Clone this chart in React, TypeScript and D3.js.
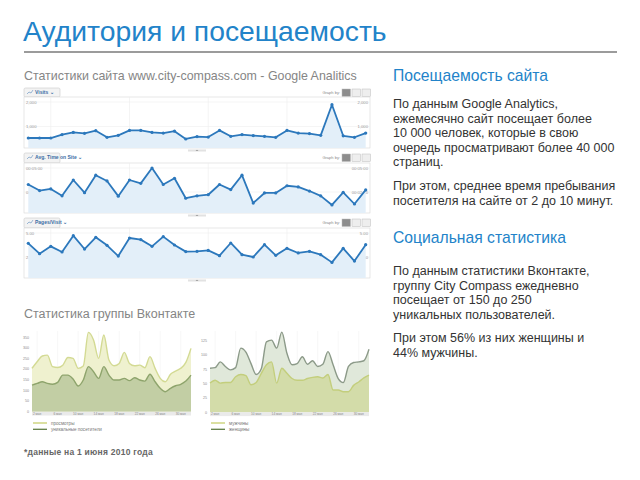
import React from 'react';
import * as d3 from 'd3';

const FONT = '"Liberation Sans", Arial, sans-serif';
const BLUE = '#2283c9';

// Google Analytics, daily values (8 May - 7 June)
const visits = [530, 530, 530, 670, 760, 720, 830, 560, 640, 840, 840, 760, 730, 810, 490, 590,
  570, 840, 600, 670, 630, 600, 560, 840, 730, 710, 640, 1890, 620, 560, 730];
const avgTime = [197, 159, 169, 126, 225, 146, 255, 219, 124, 225, 204, 300, 197, 236, 111, 126,
  133, 197, 165, 255, 81, 144, 144, 189, 182, 156, 126, 69, 148, 75, 163];
const pagesPerVisit = [3.92, 2.85, 3.61, 3.02, 4.72, 3.33, 4.55, 3.72, 2.6, 4.48, 4.31, 3.61, 4.62,
  3.75, 3.06, 3.09, 3.19, 2.64, 3.96, 2.74, 2.5, 3.78, 2.67, 3.4, 2.92, 3.09, 2.74, 1.94, 3.4, 2.08, 3.78];
const gaWeekLabels = ['May 10', 'May 17', 'May 24', 'May 31'];
const gaWeekIndex = [2, 9, 16, 23];

// Vkontakte group, daily values (1 May - 1 June)
const vkViews = [204, 235, 262, 266, 212, 208, 219, 255, 251, 204, 215, 373, 337, 251, 361, 243,
  216, 227, 279, 227, 216, 219, 207, 259, 204, 157, 141, 176, 191, 204, 232, 298];
const vkUnique = [125, 133, 141, 133, 129, 138, 172, 172, 154, 121, 149, 212, 188, 157, 212, 172,
  149, 149, 157, 146, 160, 149, 144, 176, 141, 110, 94, 110, 122, 129, 144, 172];
const vkWomen = [77, 78, 88, 80, 74, 78, 112, 105, 85, 66, 76, 123, 126, 112, 140, 103,
  83, 85, 97, 84, 90, 80, 84, 106, 83, 59, 52, 80, 87, 88, 90, 110];
const vkMen = [51, 56, 51, 52, 52, 62, 66, 64, 48, 52, 68, 83, 88, 51, 77, 68,
  59, 56, 56, 59, 61, 62, 60, 66, 39, 39, 36, 36, 47, 53, 60, 65];
const vkDayLabels = ['2 мая', '6 мая', '10 мая', '14 мая', '18 мая', '22 мая', '26 мая', '30 мая'];
const vkDayIndex = [1, 5, 9, 13, 17, 21, 25, 29];
const vkViewsTicks = [0, 50, 100, 150, 200, 250, 300, 350];
const vkGenderTicks = [0, 25, 50, 75, 100, 125];

const fmtTime = (s: number) => {
  const m = Math.floor(s / 60), r = Math.round(s % 60);
  return `00:${String(m).padStart(2, '0')}:${String(r).padStart(2, '0')}`;
};

function GaPanel({ title, data, top, chartTop, chartBottom, yMax, fmt }: any) {
  const left = 24, right = 370;
  const x = d3.scaleLinear().domain([0, data.length - 1]).range([28.3, 365.7]);
  const y = d3.scaleLinear().domain([0, yMax]).range([chartBottom + 3, chartTop + 5]);
  const area = d3.area<number>().x((d, i) => x(i)).y0(chartBottom).y1(d => y(d));
  const line = d3.line<number>().x((d, i) => x(i)).y(d => y(d));
  const clipId = `clip-${title.replace(/[^a-z]/gi, '')}`;
  return (
    <g fontFamily={FONT}>
      <rect x={left} y={top} width={36} height={chartTop - top} rx={1.5} fill="#f3f3f3" stroke="#c9c9c9" strokeWidth={0.6} />
      <path d={`M${left + 3},${top + 6} l2,-2 l2,1 l2,-3`} fill="none" stroke="#5b8cc0" strokeWidth={0.6} />
      <text x={left + 11} y={top + 6.3} fontSize={5} fill="#3b6ea5" fontWeight="bold">{title} ⌄</text>
      <text x={340} y={top + 6} fontSize={4} fill="#888" textAnchor="end">Graph by:</text>
      {[0, 1, 2].map(k => (
        <rect key={k} x={342 + k * 10} y={top + 1} width={8.5} height={7.5} fill={k === 0 ? '#8d8d8d' : '#eeeeee'} stroke="#bbb" strokeWidth={0.5} />
      ))}
      <rect x={left} y={chartTop} width={right - left} height={chartBottom - chartTop} fill="#fff" stroke="#d8d8d8" strokeWidth={0.6} />
      <clipPath id={clipId}><rect x={left} y={chartTop} width={right - left} height={chartBottom - chartTop} /></clipPath>
      {gaWeekIndex.map((idx, k) => (
        <g key={k}>
          <line x1={x(idx)} x2={x(idx)} y1={chartTop} y2={chartBottom} stroke="#ececec" strokeWidth={0.6} />
          <text x={x(idx) + 4} y={chartBottom - 2.5} fontSize={4.5} fill="#7a9ab8">{gaWeekLabels[k]}</text>
        </g>
      ))}
      {[yMax / 2, yMax].map((v, k) => (
        <g key={k}>
          <line x1={left} x2={right} y1={y(v)} y2={y(v)} stroke="#eeeeee" strokeWidth={0.6} />
          <text x={left + 2} y={y(v) + 1.5} fontSize={4.2} fill="#999">{fmt(v)}</text>
          <text x={right - 2} y={y(v) + 1.5} fontSize={4.2} fill="#999" textAnchor="end">{fmt(v)}</text>
        </g>
      ))}
      <g clipPath={`url(#${clipId})`}>
        <path d={area(data) || ''} fill="#e3eff9" />
        <path d={line(data) || ''} fill="none" stroke="#2c78bc" strokeWidth={1.8} strokeLinejoin="round" />
        {data.map((d: number, i: number) => (
          <circle key={i} cx={x(i)} cy={y(d)} r={1.6} fill="#2c78bc" />
        ))}
      </g>
      <rect x={188} y={chartBottom + 1.5} width={18} height={2} fill="#e2e2e2" />
      <path d={`M195.5,${chartBottom + 3} l1.5,-1.2 l1.5,1.2 z`} fill="#999" />
    </g>
  );
}

function VkChart({ plotLeft, plotRight, zeroY, tickTopY, ticks, upper, lower, colors, legend }: any) {
  const plotTop = 331;
  const x = d3.scaleLinear().domain([0, upper.length - 1]).range([plotLeft, plotRight]);
  const y = d3.scaleLinear().domain([0, ticks[ticks.length - 1]]).range([zeroY, tickTopY]);
  const area = d3.area<number>().x((d, i) => x(i)).y0(zeroY).y1(d => y(d)).curve(d3.curveMonotoneX);
  const line = d3.line<number>().x((d, i) => x(i)).y(d => y(d)).curve(d3.curveMonotoneX);
  return (
    <g fontFamily={FONT}>
      {vkDayIndex.map((idx, k) => (
        <line key={k} x1={x(idx)} x2={x(idx)} y1={plotTop} y2={zeroY} stroke="#f1f1f1" strokeWidth={0.6} />
      ))}
      {ticks.map((t: number) => (
        <text key={t} x={plotLeft - 3} y={y(t) + 1.2} fontSize={3.6} fill="#8a8a8a" textAnchor="end">{t}</text>
      ))}
      <path d={area(upper) || ''} fill={colors.upperFill} />
      <path d={line(upper) || ''} fill="none" stroke={colors.upperLine} strokeWidth={1.4} />
      <path d={area(lower) || ''} fill={colors.lowerFill} />
      <path d={line(lower) || ''} fill="none" stroke={colors.lowerLine} strokeWidth={1.4} />
      <rect x={plotLeft} y={zeroY} width={plotRight - plotLeft} height={3.8} fill="#eaeaea" />
      {vkDayIndex.map((idx, k) => (
        <text key={k} x={x(idx)} y={zeroY + 3} fontSize={3.2} fill="#888" textAnchor="middle">{vkDayLabels[k]}</text>
      ))}
      {legend.map((l: any, k: number) => (
        <g key={k}>
          <line x1={plotLeft + 1} x2={plotLeft + 15} y1={423 + k * 6.3} y2={423 + k * 6.3} stroke={l.color} strokeWidth={1.3} />
          <text x={plotLeft + 19} y={424.6 + k * 6.3} fontSize={4.6} fill="#777">{l.label}</text>
        </g>
      ))}
    </g>
  );
}

export default function App() {
  const body = { fontSize: 12.5, fill: '#333' };
  return (
    <svg width={640} height={480} style={{ position: 'absolute', left: 0, top: 0, background: '#fff' }} fontFamily={FONT}>
      <text x={23} y={41} fontSize={28.3} fill={BLUE}>Аудитория и посещаемость</text>
      <line x1={24} x2={617} y1={52} y2={52} stroke="#7a7a7a" strokeWidth={1.3} />
      <text x={24} y={80} fontSize={12.4} fill="#858585">Статистики сайта www.city-compass.com - Google Analitics</text>

      <GaPanel title="Visits" data={visits} top={88} chartTop={97} chartBottom={148} yMax={2000} fmt={(v: number) => d3.format(',')(v)} />
      <GaPanel title="Avg. Time on Site" data={avgTime} top={153} chartTop={163} chartBottom={213} yMax={300} fmt={fmtTime} />
      <GaPanel title="Pages/Visit" data={pagesPerVisit} top={218} chartTop={228} chartBottom={278} yMax={5} fmt={(v: number) => v.toFixed(2)} />

      <text x={24} y={318} fontSize={12.5} fill="#858585">Статистика группы Вконтакте</text>
      <VkChart plotLeft={32} plotRight={191} zeroY={411.7} tickTopY={337.3} ticks={vkViewsTicks}
        upper={vkViews} lower={vkUnique}
        colors={{ upperFill: '#eff1cf', upperLine: '#d3da93', lowerFill: '#c2cea4', lowerLine: '#8ea46c' }}
        legend={[{ label: 'просмотры', color: '#c7d06f' }, { label: 'уникальные посетители', color: '#5f7d45' }]} />
      <VkChart plotLeft={210} plotRight={369} zeroY={412.3} tickTopY={340.7} ticks={vkGenderTicks}
        upper={vkWomen} lower={vkMen}
        colors={{ upperFill: '#e0e8da', upperLine: '#8c9a89', lowerFill: '#d3dca9', lowerLine: '#c3ce7c' }}
        legend={[{ label: 'мужчины', color: '#c7d06f' }, { label: 'женщины', color: '#5f7d45' }]} />
      <text x={24} y={455} fontSize={8.5} fill="#666" fontWeight="bold" letterSpacing={0.25}>*данные на 1 июня 2010 года</text>

      <text x={393} y={81} fontSize={15.7} fill={BLUE}>Посещаемость сайта</text>
      <text {...body}>
        <tspan x={393} y={108}>По данным Google Analytics,</tspan>
        <tspan x={393} y={122.5}>ежемесячно сайт посещает более</tspan>
        <tspan x={393} y={137}>10 000 человек, которые в свою</tspan>
        <tspan x={393} y={151.5}>очередь просматривают более 40 000</tspan>
        <tspan x={393} y={166}>страниц.</tspan>
        <tspan x={393} y={190}>При этом, среднее время пребывания</tspan>
        <tspan x={393} y={204.5}>посетителя на сайте от 2 до 10 минут.</tspan>
      </text>

      <text x={393} y={243} fontSize={15.7} fill={BLUE}>Социальная статистика</text>
      <text {...body}>
        <tspan x={393} y={275}>По данным статистики Вконтакте,</tspan>
        <tspan x={393} y={289.5}>группу City Compass ежедневно</tspan>
        <tspan x={393} y={304}>посещает от 150 до 250</tspan>
        <tspan x={393} y={318.5}>уникальных пользователей.</tspan>
        <tspan x={393} y={342}>При этом 56% из них женщины и</tspan>
        <tspan x={393} y={356.5}>44% мужчины.</tspan>
      </text>
    </svg>
  );
}
